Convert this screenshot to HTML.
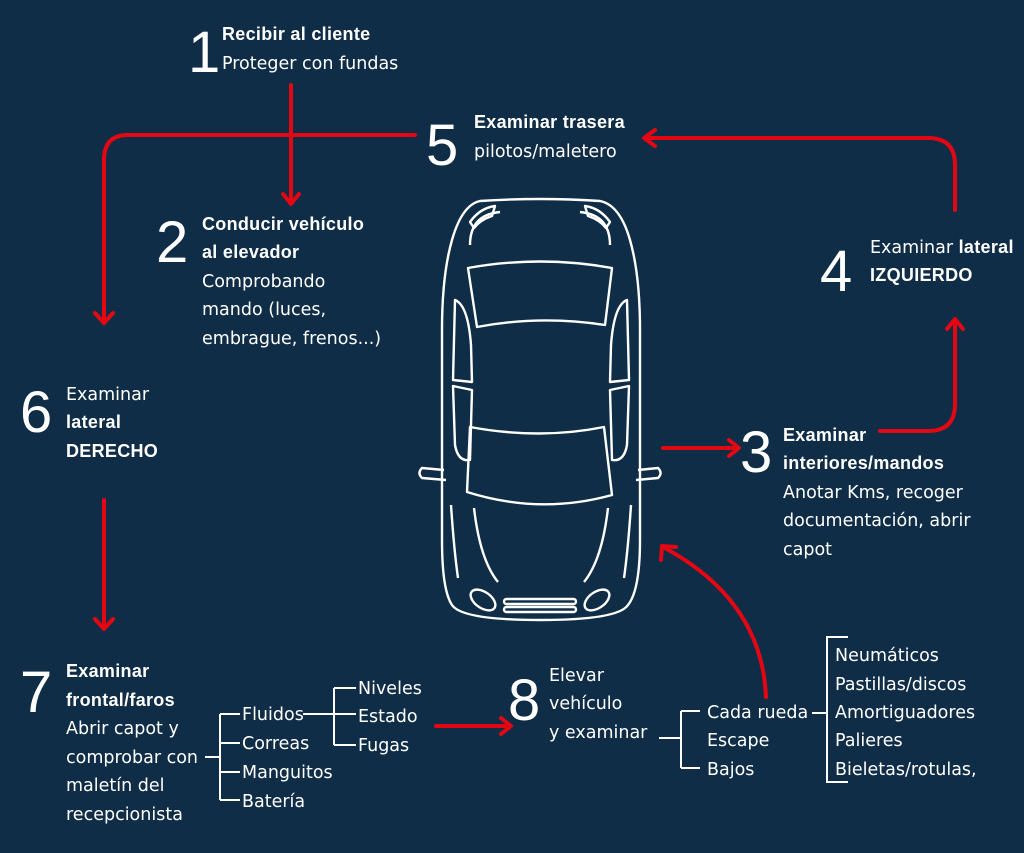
<!DOCTYPE html>
<html><head><meta charset="utf-8"><style>
html,body{margin:0;padding:0;background:#0f2d47;}
svg{display:block}
text{font-family:"DejaVu Sans","Liberation Sans",sans-serif;fill:#fff;font-size:17.5px}
.b{font-family:"Liberation Sans",sans-serif;font-weight:bold;font-size:18px;letter-spacing:0.3px}
.n{font-family:"Liberation Sans",sans-serif;font-size:58px}
</style></head><body>
<svg width="1024" height="853" viewBox="0 0 1024 853" xmlns="http://www.w3.org/2000/svg">
<rect width="1024" height="853" fill="#0f2d47"/>
<g fill="none" stroke="#e30613" stroke-width="4" stroke-linecap="round" stroke-linejoin="round">
<path d="M291 85 V203"/><path d="M283 194 L291 204 L299 194"/>
<path d="M415 135 H128 Q104 135 104 160 V322"/><path d="M95 313 L104 323 L113 313"/>
<path d="M955 210 V165 Q955 138 928 138 H645"/><path d="M655 130 L644 138 L655 146"/>
<path d="M880 431 H928 Q955 431 955 404 V320"/><path d="M947 329 L955 319 L963 329"/>
<path d="M104 500 V628"/><path d="M95 619 L104 629 L113 619"/>
<path d="M663 448 H738"/><path d="M729 440 L739 448 L729 456"/>
<path d="M436 726 H510"/><path d="M501 718 L511 726 L501 734"/>
<path d="M766 697 Q762 600 663 547"/><path d="M661 560 L662 546 L676 547"/>
</g>
<g fill="none" stroke="#fff" stroke-width="2">
<path d="M205 757 H220 M220 714 V800 M220 714 H240 M220 743 H240 M220 772 H240 M220 800 H240"/>
<path d="M303 714 H356 M334 688 V745 M334 688 H356 M334 745 H356"/>
<path d="M659 738 H681 M681 711 V768 M681 711 H700 M681 768 H700"/>
<path d="M812 713 H827 M848 637 H827 V782 H848"/>
</g>
<!-- car -->
<g fill="none" stroke="#fff" stroke-width="2.4" stroke-linejoin="round">
<path d="M480 201 Q540 197 600 201 Q620 205 630 240 Q640 275 640 330 V540 Q640 590 628 605 Q618 620 540 620 Q462 620 452 605 Q442 590 442 540 V330 Q442 275 452 240 Q462 205 480 201 Z"/>
<path d="M468 268 Q540 255 612 268 L605 325 Q540 315 477 327 Z"/>
<path d="M470 427 Q540 440 604 427 L612 495 Q540 515 467 492 Z"/>
<path d="M455 300 Q468 305 471 345 L472 382 L453 380 Z"/>
<path d="M453 386 L472 390 L470 460 Q458 462 455 445 Z"/>
<path d="M627 300 Q614 305 611 345 L610 382 L629 380 Z"/>
<path d="M629 386 L610 390 L612 460 Q624 462 627 445 Z"/>
<path d="M470 245 Q470 215 500 212 M610 245 Q610 215 580 212"/>
<path d="M470 222 Q480 208 495 206 L492 216 Q480 220 474 228 Z"/>
<path d="M610 222 Q600 208 585 206 L588 216 Q600 220 606 228 Z"/>
<path d="M444 470 L422 468 Q417 473 422 478 L446 480"/>
<path d="M638 470 L658 468 Q663 473 658 478 L636 480"/>
<path d="M451 505 Q454 550 458 578 M474 508 Q480 560 498 582 M631 505 Q628 550 624 578 M608 508 Q602 560 584 582"/>
<ellipse cx="483" cy="600" rx="14" ry="8" transform="rotate(35 483 600)"/>
<ellipse cx="597" cy="600" rx="14" ry="8" transform="rotate(-35 597 600)"/>
<rect x="504" y="599" width="72" height="5" rx="2.5"/>
<rect x="504" y="607" width="72" height="5" rx="2.5"/>
</g>
<text class="n" x="188" y="72">1</text>
<text class="b" x="222" y="40">Recibir al cliente</text>
<text x="222" y="69">Proteger con fundas</text>
<text class="n" x="426" y="165">5</text>
<text class="b" x="474" y="128">Examinar trasera</text>
<text x="474" y="157">pilotos/maletero</text>
<text class="n" x="156" y="262">2</text>
<text class="b" x="202" y="230">Conducir vehículo</text>
<text class="b" x="202" y="258">al elevador</text>
<text x="202" y="287">Comprobando</text>
<text x="202" y="315">mando (luces,</text>
<text x="202" y="344">embrague, frenos...)</text>
<text class="n" x="820" y="291">4</text>
<text x="870" y="253">Examinar <tspan class="b">lateral</tspan></text>
<text class="b" x="870" y="281">IZQUIERDO</text>
<text class="n" x="20" y="432">6</text>
<text x="66" y="400">Examinar</text>
<text class="b" x="66" y="428">lateral</text>
<text class="b" x="66" y="457">DERECHO</text>
<text class="n" x="740" y="472">3</text>
<text class="b" x="783" y="441">Examinar</text>
<text class="b" x="783" y="469">interiores/mandos</text>
<text x="783" y="498">Anotar Kms, recoger</text>
<text x="783" y="526">documentación, abrir</text>
<text x="783" y="555">capot</text>
<text class="n" x="20" y="712">7</text>
<text class="b" x="66" y="677">Examinar</text>
<text class="b" x="66" y="706">frontal/faros</text>
<text x="66" y="734">Abrir capot y</text>
<text x="66" y="763">comprobar con</text>
<text x="66" y="791">maletín del</text>
<text x="66" y="820">recepcionista</text>
<text x="242" y="720">Fluidos</text>
<text x="242" y="749">Correas</text>
<text x="242" y="778">Manguitos</text>
<text x="242" y="807">Batería</text>
<text x="358" y="694">Niveles</text>
<text x="358" y="722">Estado</text>
<text x="358" y="751">Fugas</text>
<text class="n" x="508" y="720">8</text>
<text x="549" y="681">Elevar</text>
<text x="549" y="709">vehículo</text>
<text x="549" y="738">y examinar</text>
<text x="707" y="718">Cada rueda</text>
<text x="707" y="746">Escape</text>
<text x="707" y="775">Bajos</text>
<text x="835" y="661">Neumáticos</text>
<text x="835" y="690">Pastillas/discos</text>
<text x="835" y="718">Amortiguadores</text>
<text x="835" y="746">Palieres</text>
<text x="835" y="775">Bieletas/rotulas,</text>
</svg>
</body></html>
